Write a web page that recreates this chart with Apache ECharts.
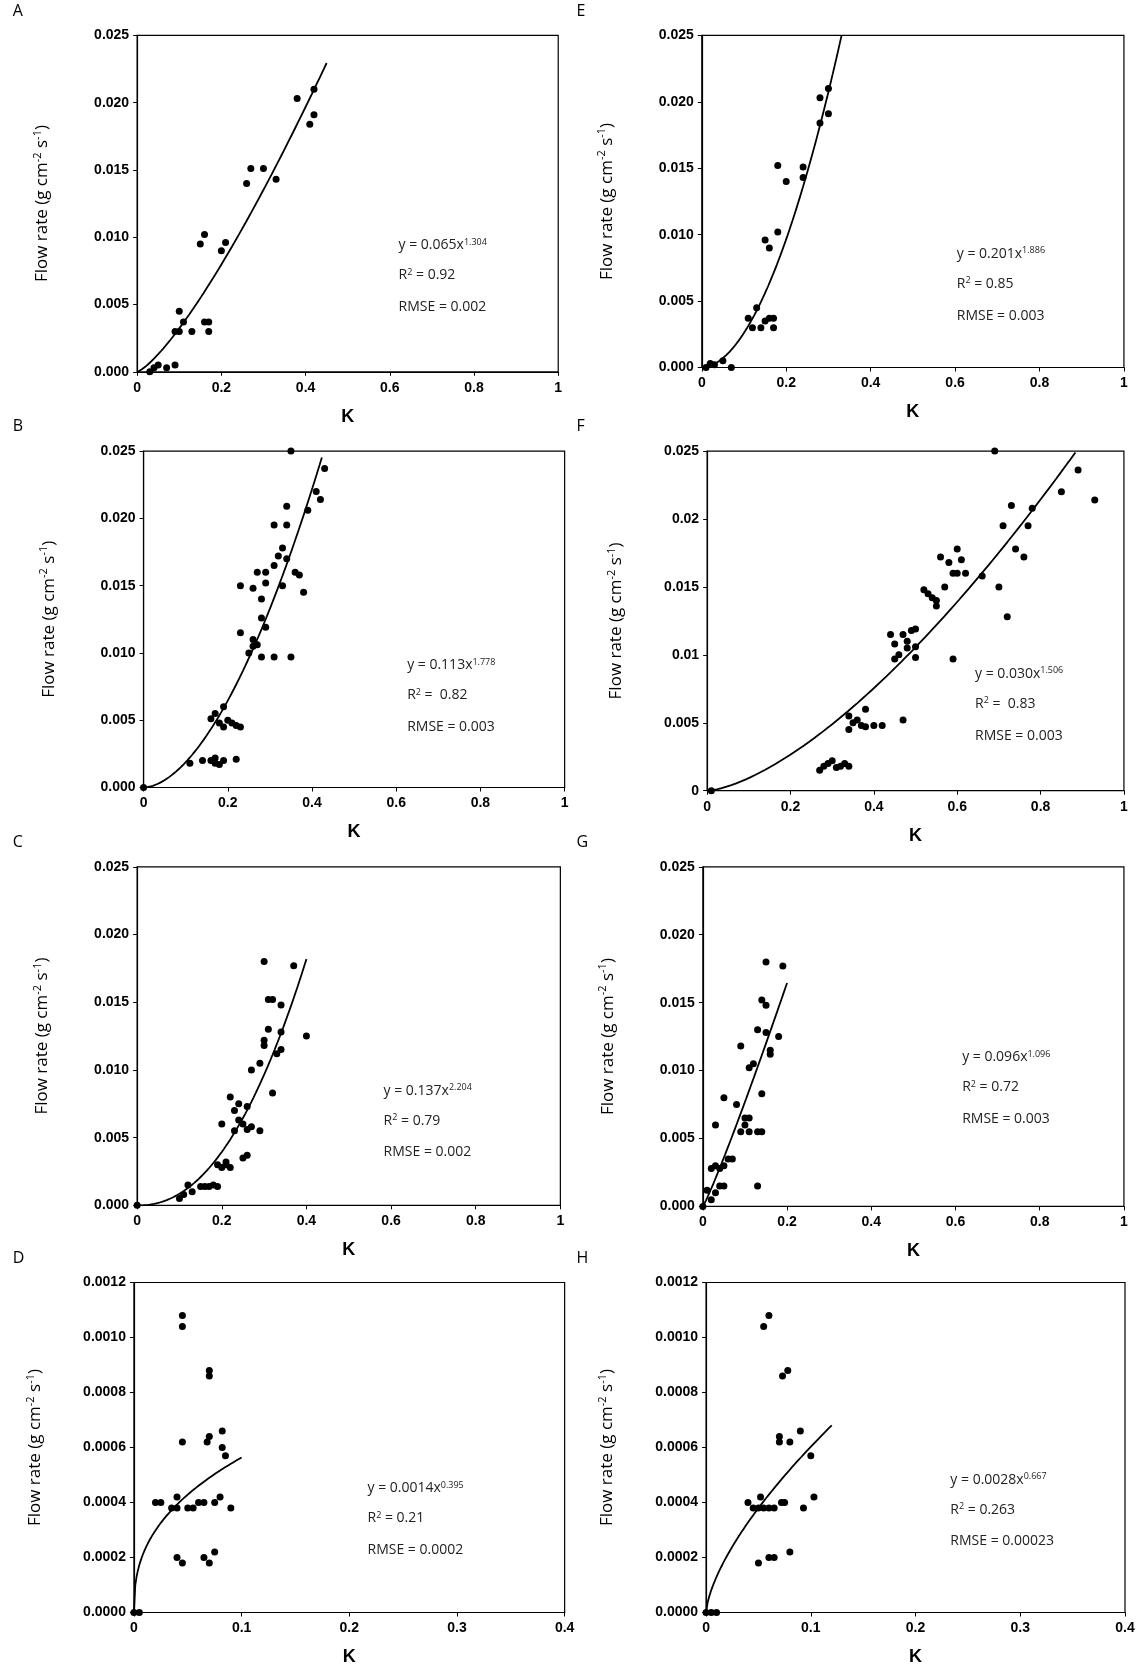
<!DOCTYPE html>
<html>
<head>
<meta charset="utf-8">
<script src="https://cdn.jsdelivr.net/npm/echarts@6/dist/echarts.min.js"></script>
<style>html,body{margin:0;padding:0;background:#fff}#chart{width:1140px;height:1680px}</style>
</head>
<body>
<div id="chart"></div>
<script>
// panel data [k, flow rate]
const pointsA = [[0.03,0],[0.04,0.0003],[0.05,0.0005],[0.07,0.0003],[0.09,0.0005],[0.09,0.003],[0.1,0.0045],[0.1,0.003],[0.11,0.0037],[0.13,0.003],[0.15,0.0095],[0.16,0.0102],[0.16,0.0037],[0.17,0.0037],[0.17,0.003],[0.2,0.009],[0.21,0.0096],[0.26,0.014],[0.27,0.0151],[0.3,0.0151],[0.33,0.0143],[0.38,0.0203],[0.41,0.0184],[0.42,0.0191],[0.42,0.021]];
const pointsE = [[0.01,0],[0.02,0.0003],[0.03,0.0002],[0.05,0.0005],[0.07,0],[0.11,0.0037],[0.12,0.003],[0.13,0.0045],[0.14,0.003],[0.15,0.0096],[0.16,0.009],[0.15,0.0035],[0.16,0.0037],[0.17,0.0037],[0.17,0.003],[0.18,0.0152],[0.18,0.0102],[0.2,0.014],[0.24,0.0151],[0.24,0.0143],[0.28,0.0184],[0.28,0.0203],[0.3,0.021],[0.3,0.0191]];
const pointsB = [[0,0],[0.11,0.0018],[0.14,0.002],[0.16,0.002],[0.17,0.0018],[0.17,0.0022],[0.18,0.0017],[0.19,0.002],[0.22,0.0021],[0.16,0.0051],[0.17,0.0055],[0.18,0.0048],[0.19,0.0045],[0.19,0.006],[0.2,0.005],[0.21,0.0048],[0.22,0.0046],[0.23,0.0045],[0.23,0.0115],[0.23,0.015],[0.25,0.01],[0.26,0.0105],[0.26,0.011],[0.26,0.0148],[0.27,0.0106],[0.27,0.016],[0.28,0.0126],[0.28,0.014],[0.28,0.0097],[0.29,0.0119],[0.29,0.0152],[0.29,0.016],[0.31,0.0097],[0.31,0.0165],[0.31,0.0195],[0.32,0.0172],[0.33,0.0178],[0.33,0.015],[0.34,0.0195],[0.34,0.0209],[0.34,0.017],[0.35,0.0097],[0.35,0.025],[0.36,0.016],[0.37,0.0158],[0.38,0.0145],[0.39,0.0206],[0.41,0.022],[0.42,0.0214],[0.43,0.0237]];
const pointsF = [[0.01,0],[0.27,0.0015],[0.28,0.0018],[0.29,0.002],[0.3,0.0022],[0.31,0.0017],[0.32,0.0018],[0.33,0.002],[0.34,0.0018],[0.34,0.0045],[0.34,0.0055],[0.35,0.005],[0.36,0.0052],[0.37,0.0048],[0.38,0.006],[0.38,0.0047],[0.4,0.0048],[0.42,0.0048],[0.44,0.0115],[0.45,0.0108],[0.45,0.0097],[0.46,0.01],[0.47,0.0052],[0.47,0.0115],[0.48,0.0105],[0.48,0.011],[0.49,0.0118],[0.5,0.0098],[0.5,0.0119],[0.5,0.0106],[0.52,0.0148],[0.53,0.0145],[0.54,0.0142],[0.55,0.014],[0.55,0.0136],[0.56,0.0172],[0.57,0.015],[0.58,0.0168],[0.59,0.0097],[0.59,0.016],[0.6,0.0178],[0.6,0.016],[0.61,0.017],[0.62,0.016],[0.66,0.0158],[0.69,0.025],[0.7,0.015],[0.71,0.0195],[0.72,0.0128],[0.73,0.021],[0.74,0.0178],[0.76,0.0172],[0.77,0.0195],[0.78,0.0208],[0.85,0.022],[0.89,0.0236],[0.93,0.0214]];
const pointsC = [[0,0],[0.1,0.0005],[0.11,0.0008],[0.12,0.0015],[0.13,0.001],[0.15,0.0014],[0.16,0.0014],[0.17,0.0014],[0.18,0.0015],[0.19,0.0014],[0.19,0.003],[0.2,0.006],[0.2,0.0028],[0.21,0.003],[0.21,0.0032],[0.22,0.008],[0.22,0.0028],[0.23,0.0055],[0.23,0.007],[0.24,0.0075],[0.24,0.0063],[0.25,0.006],[0.25,0.0035],[0.26,0.0037],[0.26,0.0073],[0.26,0.0056],[0.27,0.0058],[0.27,0.01],[0.29,0.0105],[0.29,0.0055],[0.3,0.0118],[0.3,0.0122],[0.3,0.018],[0.31,0.0152],[0.31,0.013],[0.32,0.0083],[0.32,0.0152],[0.33,0.0112],[0.34,0.0115],[0.34,0.0148],[0.34,0.0128],[0.37,0.0177],[0.4,0.0125]];
const pointsG = [[0,0],[0.01,0.0012],[0.02,0.0028],[0.02,0.0005],[0.03,0.006],[0.03,0.003],[0.03,0.001],[0.04,0.0028],[0.04,0.0015],[0.05,0.003],[0.05,0.0015],[0.05,0.008],[0.06,0.0035],[0.07,0.0035],[0.08,0.0075],[0.09,0.0118],[0.09,0.0055],[0.1,0.006],[0.1,0.0065],[0.11,0.0055],[0.11,0.0102],[0.11,0.0065],[0.12,0.0105],[0.13,0.0055],[0.13,0.0015],[0.13,0.013],[0.14,0.0152],[0.14,0.0083],[0.14,0.0055],[0.15,0.018],[0.15,0.0148],[0.15,0.0128],[0.16,0.0112],[0.16,0.0115],[0.18,0.0125],[0.19,0.0177]];
const pointsD = [[0,0],[0.005,0],[0.02,0.0004],[0.025,0.0004],[0.035,0.00038],[0.04,0.0002],[0.04,0.00042],[0.04,0.00038],[0.045,0.00018],[0.045,0.00108],[0.045,0.00104],[0.045,0.00062],[0.05,0.00038],[0.055,0.00038],[0.06,0.0004],[0.065,0.0002],[0.065,0.0004],[0.068,0.00062],[0.07,0.00018],[0.07,0.00064],[0.07,0.00086],[0.07,0.00088],[0.075,0.00022],[0.075,0.0004],[0.08,0.00042],[0.082,0.00066],[0.082,0.0006],[0.085,0.00057],[0.09,0.00038]];
const pointsH = [[0,0],[0.005,0],[0.01,0],[0.04,0.0004],[0.045,0.00038],[0.05,0.00038],[0.05,0.00018],[0.052,0.00042],[0.055,0.00104],[0.055,0.00038],[0.06,0.0002],[0.06,0.00108],[0.06,0.00038],[0.065,0.0002],[0.065,0.00038],[0.07,0.00062],[0.07,0.00064],[0.072,0.0004],[0.073,0.00086],[0.075,0.0004],[0.078,0.00088],[0.08,0.00062],[0.08,0.00022],[0.09,0.00066],[0.093,0.00038],[0.1,0.00057],[0.103,0.00042]];

// fitted power law y = a x^b, drawn up to xEnd
const fitA = [0.065, 1.304, 0.45], fitE = [0.201, 1.886, 0.331];
const fitB = [0.113, 1.778, 0.44], fitF = [0.030, 1.506, 0.93];
const fitC = [0.137, 2.204, 0.40], fitG = [0.096, 1.096, 0.20];
const fitD = [0.0014, 0.395, 0.10], fitH = [0.0028, 0.667, 0.12];

const statsA = ['0.065', '1.304', '0.92', '0.002'], statsE = ['0.201', '1.886', '0.85', '0.003'];
const statsB = ['0.113', '1.778', ' 0.82', '0.003'], statsF = ['0.030', '1.506', ' 0.83', '0.003'];
const statsC = ['0.137', '2.204', '0.79', '0.002'], statsG = ['0.096', '1.096', '0.72', '0.003'];
const statsD = ['0.0014', '0.395', '0.21', '0.0002'], statsH = ['0.0028', '0.667', '0.263', '0.00023'];

const s = 1140 / 1064;
// reference box [left, top, right, bottom], text x, text y
const panels = [
  { id: 'A', pts: pointsA, fit: fitA, st: statsA, box: [128, 33, 521, 347], xmax: 1, xi: 0.2, ymax: 0.025, yi: 0.005, dec: 3, tx: 372, ty: 232 },
  { id: 'E', pts: pointsE, fit: fitE, st: statsE, box: [655, 33, 1049, 343], xmax: 1, xi: 0.2, ymax: 0.025, yi: 0.005, dec: 3, tx: 893, ty: 240 },
  { id: 'B', pts: pointsB, fit: fitB, st: statsB, box: [134, 421, 527, 735], xmax: 1, xi: 0.2, ymax: 0.025, yi: 0.005, dec: 3, tx: 380, ty: 624 },
  { id: 'F', pts: pointsF, fit: fitF, st: statsF, box: [660, 421, 1049, 738], xmax: 1, xi: 0.2, ymax: 0.025, yi: 0.005, dec: -1, tx: 910, ty: 632 },
  { id: 'C', pts: pointsC, fit: fitC, st: statsC, box: [128, 809, 523, 1125], xmax: 1, xi: 0.2, ymax: 0.025, yi: 0.005, dec: 3, tx: 358, ty: 1021 },
  { id: 'G', pts: pointsG, fit: fitG, st: statsG, box: [656, 809, 1049, 1126], xmax: 1, xi: 0.2, ymax: 0.025, yi: 0.005, dec: 3, tx: 898, ty: 990 },
  { id: 'D', pts: pointsD, fit: fitD, st: statsD, box: [125, 1197, 527, 1505], xmax: 0.4, xi: 0.1, ymax: 0.0012, yi: 0.0002, dec: 4, tx: 343, ty: 1392 },
  { id: 'H', pts: pointsH, fit: fitH, st: statsH, box: [659, 1197, 1050, 1505], xmax: 0.4, xi: 0.1, ymax: 0.0012, yi: 0.0002, dec: 4, tx: 887, ty: 1384 }
];

const tickFont = { fontFamily: 'Liberation Sans', fontWeight: 'bold', fontSize: 14, color: '#000' };
const grid = [], xAxis = [], yAxis = [], series = [], graphic = [];

panels.forEach((p, i) => {
  const [l, t, r, b] = p.box.map(v => v * s);
  grid.push({ left: l, top: t, width: r - l, height: b - t, show: true, borderColor: '#000', borderWidth: 1.2, backgroundColor: 'transparent' });
  xAxis.push({
    gridIndex: i, type: 'value', min: 0, max: p.xmax, interval: p.xi,
    name: 'K', nameLocation: 'middle', nameGap: 36,
    nameTextStyle: { fontFamily: 'Liberation Sans', fontWeight: 'bold', fontSize: 18, color: '#000' },
    axisLine: { lineStyle: { color: '#000', width: 1.2 } },
    axisTick: { show: true, length: 4, lineStyle: { color: '#000' } },
    splitLine: { show: false },
    axisLabel: { ...tickFont, margin: 9, formatter: v => String(+v.toFixed(2)) }
  });
  yAxis.push({
    gridIndex: i, type: 'value', min: 0, max: p.ymax, interval: p.yi,
    name: '{n|Flow rate (g cm}{sp|-2}{n| s}{sp|-1}{n|)}', nameLocation: 'middle', nameGap: p.dec === 4 ? 88 : (p.dec === -1 ? 80 : 84),
    nameTextStyle: { rich: { n: { fontFamily: 'Open Sans', fontSize: 17, color: '#000' }, sp: { fontFamily: 'Open Sans', fontSize: 11, color: '#000', verticalAlign: 'top', padding: [0, 0, 10, 0] } } },
    axisLine: { lineStyle: { color: '#000', width: 1.2 } },
    axisTick: { show: true, length: 4, inside: false, lineStyle: { color: '#000' } },
    splitLine: { show: false },
    axisLabel: { ...tickFont, margin: 8, formatter: v => p.dec < 0 ? String(+v.toFixed(3)) : v.toFixed(p.dec) }
  });
  series.push({
    type: 'scatter', xAxisIndex: i, yAxisIndex: i, data: p.pts, symbolSize: 7,
    itemStyle: { color: '#000', opacity: 1 }, z: 3
  });
  const [a, bb, xEnd] = p.fit;
  const curve = [];
  for (let k = 0; k <= 80; k++) {
    const x = xEnd * k / 80;
    const y = a * Math.pow(x, bb);
    if (y <= p.ymax) curve.push([x, y]);
  }
  series.push({
    type: 'line', xAxisIndex: i, yAxisIndex: i, data: curve, showSymbol: false, smooth: false,
    lineStyle: { color: '#000', width: 1.8 }, z: 2, silent: true
  });
  // panel letter
  graphic.push({ type: 'text', left: (p.id <= 'D' ? 12 : 538) * s, top: (t / s - 30) * s,
    style: { text: p.id, font: '16px "Open Sans"', fill: '#000' } });
  const eq = { n: { fontFamily: 'Open Sans', fontSize: 14, fill: '#222' }, sp: { fontFamily: 'Open Sans', fontSize: 9, fill: '#222', verticalAlign: 'top', padding: [0, 0, 6, 0] } };
  graphic.push({ type: 'text', left: p.tx * s, top: (p.ty - 10) * s,
    style: { text: '{n|y = ' + p.st[0] + 'x}{sp|' + p.st[1] + '}', rich: eq } });
  graphic.push({ type: 'text', left: p.tx * s, top: (p.ty + 18) * s,
    style: { text: '{n|R}{sp|2}{n| = ' + p.st[2] + '}', rich: eq } });
  graphic.push({ type: 'text', left: p.tx * s, top: (p.ty + 48) * s,
    style: { text: '{n|RMSE = ' + p.st[3] + '}', rich: eq } });
});

const chart = echarts.init(document.getElementById('chart'), null, { renderer: 'canvas' });
chart.setOption({ animation: false, backgroundColor: '#fff', grid, xAxis, yAxis, series, graphic });
</script>
</body>
</html>
